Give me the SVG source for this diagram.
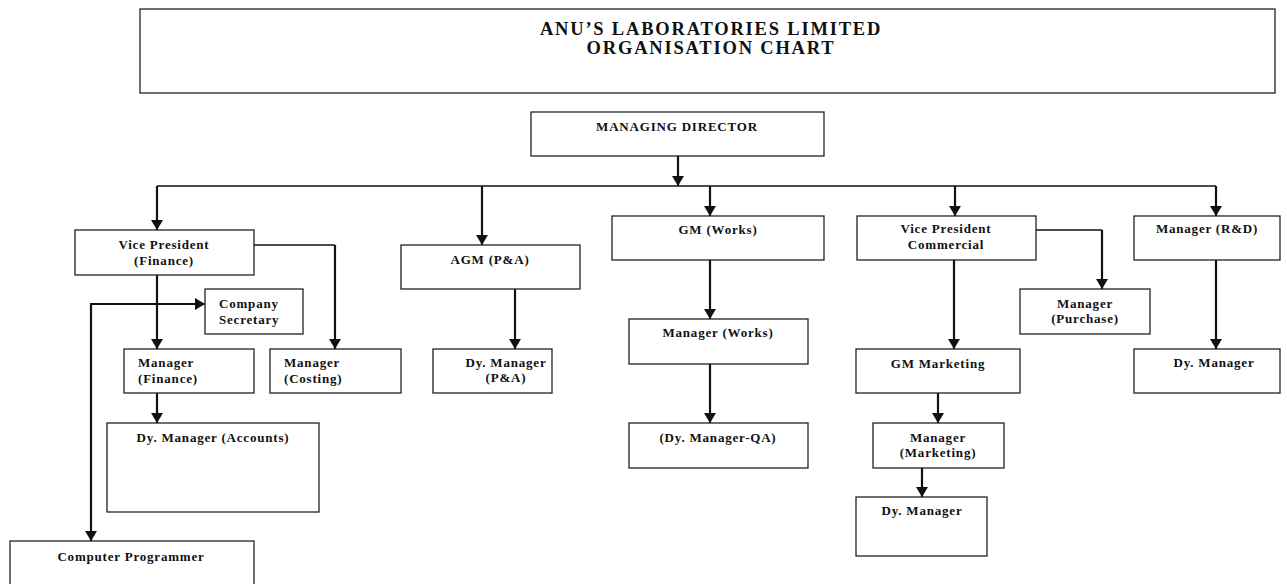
<svg xmlns="http://www.w3.org/2000/svg" width="1287" height="584" viewBox="0 0 1287 584">
<style>
.box{fill:#fff;stroke:#222;stroke-width:1.3}
.t{font-family:"Liberation Serif","Times New Roman",serif;font-weight:bold;font-size:13px;letter-spacing:0.8px;fill:#111}
.c{text-anchor:middle}
.title{font-family:"Liberation Serif","Times New Roman",serif;font-weight:bold;font-size:18.5px;letter-spacing:1.8px;fill:#111;text-anchor:middle}
.h{fill:none;stroke:#111;stroke-width:1.3}
.v{fill:none;stroke:#111;stroke-width:2.2}
</style>
<defs>
<marker id="ah" viewBox="0 0 10 12" refX="10" refY="6" markerWidth="10" markerHeight="12" markerUnits="userSpaceOnUse" orient="auto">
<path d="M0,0 L10,6 L0,12 z" fill="#111"/>
</marker>
</defs>
<rect width="1287" height="584" fill="#fff"/>

<g id="title">
<rect class="box" x="140" y="9" width="1135" height="84"/>
<text class="title" x="711" y="35">ANU’S LABORATORIES LIMITED</text>
<text class="title" x="711" y="54">ORGANISATION CHART</text>
</g>

<g id="connectors">
<path class="v" d="M678,156 V186" marker-end="url(#ah)"/>
<path class="h" d="M157,186 H1216"/>
<path class="v" d="M157,186 V230" marker-end="url(#ah)"/>
<path class="v" d="M482,186 V245" marker-end="url(#ah)"/>
<path class="v" d="M710,186 V216" marker-end="url(#ah)"/>
<path class="v" d="M955,186 V216" marker-end="url(#ah)"/>
<path class="v" d="M1216,186 V216" marker-end="url(#ah)"/>
<path class="v" d="M157,275 V349" marker-end="url(#ah)"/>
<path class="h" d="M254,245 H335"/>
<path class="v" d="M335,245 V349" marker-end="url(#ah)"/>
<path class="v" d="M91,304 H205" marker-end="url(#ah)"/>
<path class="v" d="M91,303 V541" marker-end="url(#ah)"/>
<path class="v" d="M157,393 V423" marker-end="url(#ah)"/>
<path class="v" d="M515,289 V349" marker-end="url(#ah)"/>
<path class="v" d="M710,260 V319" marker-end="url(#ah)"/>
<path class="v" d="M710,364 V423" marker-end="url(#ah)"/>
<path class="v" d="M954,260 V349" marker-end="url(#ah)"/>
<path class="h" d="M1036,230 H1102"/>
<path class="v" d="M1102,230 V289" marker-end="url(#ah)"/>
<path class="v" d="M938,393 V423" marker-end="url(#ah)"/>
<path class="v" d="M922,468 V497" marker-end="url(#ah)"/>
<path class="v" d="M1216,260 V349" marker-end="url(#ah)"/>
</g>

<g id="managing-director">
<rect class="box" x="531" y="112" width="293" height="44"/>
<text class="t c" x="677" y="131">MANAGING DIRECTOR</text>
</g>
<g id="vp-finance">
<rect class="box" x="75" y="230" width="179" height="45"/>
<text class="t c" x="164" y="249">Vice President</text>
<text class="t c" x="164" y="265">(Finance)</text>
</g>
<g id="agm-pa">
<rect class="box" x="401" y="245" width="179" height="44"/>
<text class="t c" x="490" y="264">AGM (P&amp;A)</text>
</g>
<g id="gm-works">
<rect class="box" x="612" y="216" width="212" height="44"/>
<text class="t c" x="718" y="234">GM (Works)</text>
</g>
<g id="vp-commercial">
<rect class="box" x="857" y="216" width="179" height="44"/>
<text class="t c" x="946" y="233">Vice President</text>
<text class="t c" x="946" y="249">Commercial</text>
</g>
<g id="manager-rd">
<rect class="box" x="1134" y="216" width="146" height="44"/>
<text class="t c" x="1207" y="233">Manager (R&amp;D)</text>
</g>
<g id="company-secretary">
<rect class="box" x="205" y="289" width="98" height="45"/>
<text class="t" x="219" y="308">Company</text>
<text class="t" x="219" y="324">Secretary</text>
</g>
<g id="manager-finance">
<rect class="box" x="124" y="349" width="130" height="44"/>
<text class="t" x="138" y="367">Manager</text>
<text class="t" x="138" y="383">(Finance)</text>
</g>
<g id="manager-costing">
<rect class="box" x="270" y="349" width="131" height="44"/>
<text class="t" x="284" y="367">Manager</text>
<text class="t" x="284" y="383">(Costing)</text>
</g>
<g id="dy-manager-pa">
<rect class="box" x="433" y="349" width="119" height="44"/>
<text class="t c" x="506" y="367">Dy. Manager</text>
<text class="t c" x="506" y="382">(P&amp;A)</text>
</g>
<g id="manager-works">
<rect class="box" x="629" y="319" width="179" height="45"/>
<text class="t c" x="718" y="337">Manager (Works)</text>
</g>
<g id="dy-manager-qa">
<rect class="box" x="629" y="423" width="179" height="45"/>
<text class="t c" x="718" y="442">(Dy. Manager-QA)</text>
</g>
<g id="gm-marketing">
<rect class="box" x="856" y="349" width="164" height="44"/>
<text class="t c" x="938" y="368">GM Marketing</text>
</g>
<g id="manager-marketing">
<rect class="box" x="873" y="423" width="131" height="45"/>
<text class="t c" x="938" y="442">Manager</text>
<text class="t c" x="938" y="457">(Marketing)</text>
</g>
<g id="dy-manager-marketing">
<rect class="box" x="856" y="497" width="131" height="59"/>
<text class="t c" x="922" y="515">Dy. Manager</text>
</g>
<g id="manager-purchase">
<rect class="box" x="1020" y="289" width="130" height="45"/>
<text class="t c" x="1085" y="308">Manager</text>
<text class="t c" x="1085" y="323">(Purchase)</text>
</g>
<g id="dy-manager-rd">
<rect class="box" x="1134" y="349" width="146" height="44"/>
<text class="t c" x="1214" y="367">Dy. Manager</text>
</g>
<g id="dy-manager-accounts">
<rect class="box" x="107" y="423" width="212" height="89"/>
<text class="t c" x="213" y="442">Dy. Manager (Accounts)</text>
</g>
<g id="computer-programmer">
<rect class="box" x="10" y="541" width="244" height="44"/>
<text class="t c" x="131" y="561">Computer Programmer</text>
</g>
</svg>
